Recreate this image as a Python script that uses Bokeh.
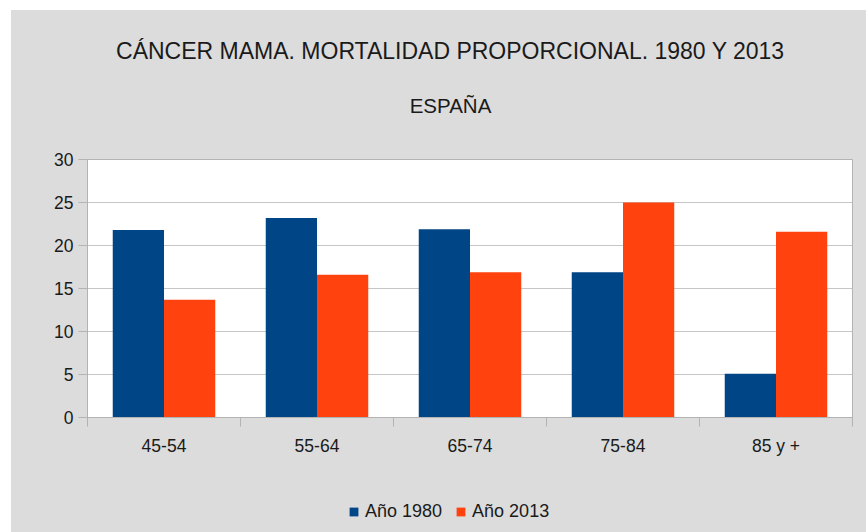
from bokeh.plotting import figure
from bokeh.models import (ColumnDataSource, Range1d, FixedTicker, Label, Legend,
                          LegendItem)
from bokeh.layouts import column
from bokeh.transform import dodge
from bokeh.embed import file_html
from bokeh.resources import INLINE

# ---- data ----
categories = ["45-54", "55-64", "65-74", "75-84", "85 y +"]
anio_1980 = [21.8, 23.2, 21.9, 16.9, 5.1]
anio_2013 = [13.7, 16.6, 16.9, 25.0, 21.6]
y_ticks = [0, 5, 10, 15, 20, 25, 30]
title_text = "CÁNCER MAMA. MORTALIDAD PROPORCIONAL. 1980 Y 2013"
subtitle_text = "ESPAÑA"
series_labels = ["Año 1980", "Año 2013"]

FONT = "Liberation Sans"
BLUE = "#004586"
ORANGE = "#ff420e"
GRAY_BG = "#dcdcdc"
AXIS_GRAY = "#b3b3b3"
GRID_GRAY = "#c6c6c6"
TXT = "#1a1a1a"
W = 855
H_HEAD, H_MAIN, H_LEG = 137, 333, 52
B_LEFT, B_RIGHT = 76, 14
FRAME_W = W - B_LEFT - B_RIGHT


def blank_panel(h):
    f = figure(width=W, height=h, output_backend="svg", toolbar_location=None,
               x_axis_type=None, y_axis_type=None,
               x_range=Range1d(0, FRAME_W), y_range=Range1d(0, h),
               min_border_left=B_LEFT, min_border_right=B_RIGHT,
               min_border_top=0, min_border_bottom=0)
    f.outline_line_color = None
    f.background_fill_alpha = 0
    f.border_fill_alpha = 0
    return f


# ---- header with titles ----
head = blank_panel(H_HEAD)
head.add_layout(Label(x=363, y=H_HEAD - 40, text=title_text,
                      text_align="center", text_baseline="middle",
                      text_font=FONT, text_font_size="23px", text_color=TXT))
head.add_layout(Label(x=363, y=H_HEAD - 95, text=subtitle_text,
                      text_align="center", text_baseline="middle",
                      text_font=FONT, text_font_size="20.5px", text_color=TXT))

# ---- main chart ----
centers = [i + 0.5 for i in range(len(categories))]
source = ColumnDataSource(dict(x=centers, cat=categories, a=anio_1980, b=anio_2013))

p = figure(width=W, height=H_MAIN, output_backend="svg", toolbar_location=None,
           x_range=Range1d(0, len(categories)), y_range=Range1d(0, 30),
           min_border_left=B_LEFT, min_border_right=B_RIGHT, min_border_top=12,
           min_border_bottom=63)
p.border_fill_alpha = 0
p.background_fill_color = "white"
p.outline_line_color = AXIS_GRAY
p.outline_line_width = 1

bw = 0.335
r1 = p.vbar(x=dodge("x", -bw / 2), top="a", width=bw, source=source,
            fill_color=BLUE, line_color=None)
r2 = p.vbar(x=dodge("x", bw / 2), top="b", width=bw, source=source,
            fill_color=ORANGE, line_color=None)

xa = p.xaxis[0]
xa.ticker = FixedTicker(ticks=centers, minor_ticks=list(range(len(categories) + 1)))
xa.major_label_overrides = {c: lab for c, lab in zip(centers, categories)}
xa.major_tick_line_color = None
xa.major_tick_out = 0
xa.major_tick_in = 0
xa.minor_tick_line_color = AXIS_GRAY
xa.minor_tick_out = 9
xa.minor_tick_in = 0
xa.axis_line_color = AXIS_GRAY
xa.major_label_standoff = 9
xa.major_label_text_font = FONT
xa.major_label_text_font_size = "17.5px"
xa.major_label_text_color = TXT

ya = p.yaxis[0]
ya.ticker = FixedTicker(ticks=y_ticks, minor_ticks=[])
ya.major_tick_line_color = AXIS_GRAY
ya.major_tick_out = 9
ya.major_tick_in = 0
ya.minor_tick_line_color = None
ya.axis_line_color = AXIS_GRAY
ya.major_label_standoff = 5
ya.major_label_text_font = FONT
ya.major_label_text_font_size = "17.5px"
ya.major_label_text_color = TXT

p.xgrid.grid_line_color = None
p.ygrid.grid_line_color = GRID_GRAY
p.ygrid.ticker = FixedTicker(ticks=y_ticks)

# ---- legend strip (hidden renderers only provide the legend swatches) ----
leg = blank_panel(H_LEG)
l1 = leg.vbar(x="x", top="a", width=bw, source=source, fill_color=BLUE,
              line_color=None, visible=False)
l2 = leg.vbar(x="x", top="b", width=bw, source=source, fill_color=ORANGE,
              line_color=None, visible=False)
legend = Legend(items=[LegendItem(label=series_labels[0], renderers=[l1]),
                       LegendItem(label=series_labels[1], renderers=[l2])],
                orientation="horizontal", location=(261, 10),
                glyph_width=11, glyph_height=11, label_standoff=6, spacing=13,
                padding=0, margin=0, border_line_color=None,
                background_fill_alpha=0, inactive_fill_alpha=0,
                label_text_font=FONT, label_text_font_size="18px",
                label_text_color=TXT, label_height=20)
leg.add_layout(legend, "center")

layout = column(head, p, leg, spacing=0)
layout.margin = (10, 0, 0, 11)
layout.styles = {"background-color": GRAY_BG}

open("out.html", "w").write(file_html(layout, INLINE))
